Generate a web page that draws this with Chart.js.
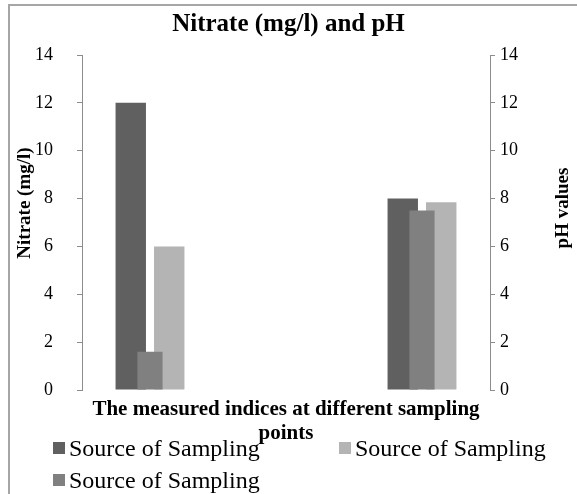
<!DOCTYPE html>
<html>
<head>
<meta charset="utf-8">
<script src="https://cdn.jsdelivr.net/npm/chart.js@4/dist/chart.umd.min.js"></script>
<style>
    html, body { margin: 0; padding: 0; background: #fff; overflow: hidden; }
    #wrap { position: relative; width: 577px; height: 494px; overflow: hidden; }
    #frame { position: absolute; left: 8px; top: 4px; width: 620px; height: 560px; border-top: 2px solid #a6a6a6; border-left: 2px solid #a6a6a6; box-sizing: border-box; }
    #myChart { position: absolute; left: 0; top: 0; }
    #legend { position: absolute; left: 53px; top: 432px; width: 600px; display: flex; flex-wrap: wrap; font-family: 'Liberation Serif', 'Times New Roman', serif; font-size: 24px; color: #000; }
    #legend .item { width: 286px; height: 32px; display: flex; align-items: center; white-space: nowrap; }
    #legend .box { width: 12px; height: 12px; margin-right: 4px; flex: none; }
</style>
</head>
<body>
<div id="wrap">
    <div id="frame"></div>
    <canvas id="myChart" width="577" height="494"></canvas>
    <div id="legend"></div>
</div>
<script>
    // data
    const categories = ['', '', ''];
    const seriesNames = ['Source of Sampling', 'Source of Sampling', 'Source of Sampling'];
    const darkValues = [12, null, 8];      // left axis
    const lightValues = [6, null, 7.85];   // left axis
    const mediumValues = [1.6, null, 7.5]; // right axis (pH)
    const tickValues = [0, 2, 4, 6, 8, 10, 12, 14];

    const serif = "'Liberation Serif', 'Times New Roman', serif";

    // rotated axis titles (both read bottom to top)
    const axisTitles = {
        id: 'axisTitles',
        afterDraw(chart) {
            const { ctx, chartArea } = chart;
            ctx.save();
            ctx.font = 'bold 19px ' + serif;
            ctx.fillStyle = '#000';
            ctx.textAlign = 'center';
            ctx.textBaseline = 'middle';
            ctx.translate(chartArea.left - 57, chartArea.top + 148);
            ctx.rotate(-Math.PI / 2);
            ctx.fillText('Nitrate (mg/l)', 0, 0);
            ctx.restore();
            ctx.save();
            ctx.font = 'bold 19px ' + serif;
            ctx.fillStyle = '#000';
            ctx.textAlign = 'center';
            ctx.textBaseline = 'middle';
            ctx.translate(chartArea.right + 73, chartArea.top + 153);
            ctx.rotate(-Math.PI / 2);
            ctx.fillText('pH values', 0, 0);
            ctx.restore();
        }
    };

    function yAxis(position, width, pad) {
        return {
            position: position,
            min: 0,
            max: 14,
            afterBuildTicks: (scale) => { scale.ticks = tickValues.map(v => ({ value: v })); },
            afterFit: (scale) => { scale.width = width; },
            ticks: { color: '#000', padding: pad, font: { family: serif, size: 18 } },
            grid: { drawOnChartArea: false, drawTicks: true, tickLength: 5, color: '#8c8c8c' },
            border: { display: true, color: '#8c8c8c' },
            title: { display: false }
        };
    }

    const ctx = document.getElementById('myChart').getContext('2d');
    const myChart = new Chart(ctx, {
        type: 'bar',
        data: {
            labels: categories,
            datasets: [{
                label: seriesNames[0],
                data: darkValues,
                backgroundColor: '#606060',
                yAxisID: 'y',
                categoryPercentage: 0.566,
                barPercentage: 0.79,
                order: 1
            },
            {
                label: seriesNames[1],
                data: lightValues,
                backgroundColor: '#b4b4b4',
                yAxisID: 'y',
                categoryPercentage: 0.566,
                barPercentage: 0.79,
                order: 1
            },
            {
                label: seriesNames[2],
                data: mediumValues,
                backgroundColor: '#808080',
                yAxisID: 'y2',
                grouped: false, // overlaid in the middle of the category
                categoryPercentage: 1,
                barPercentage: 0.185,
                order: 0
            }]
        },
        options: {
            responsive: false,
            animation: false,
            layout: { padding: 0 },
            scales: {
                x: {
                    type: 'category',
                    offset: true,
                    afterFit: (scale) => { scale.height = 104; },
                    ticks: { display: false },
                    grid: { display: false },
                    border: { display: false },
                    title: {
                        display: true,
                        text: ['The measured indices at different sampling', 'points'],
                        color: '#000',
                        font: { family: serif, size: 21, weight: 'bold', lineHeight: 1.15 },
                        padding: { top: 0, bottom: 48 }
                    }
                },
                y: yAxis('left', 82, 24),
                y2: yAxis('right', 87, 5)
            },
            plugins: {
                legend: { display: false },
                tooltip: { enabled: false },
                title: {
                    display: true,
                    text: 'Nitrate (mg/l) and pH',
                    color: '#000',
                    font: { family: serif, size: 25, weight: 'bold', lineHeight: 1.2 },
                    padding: { top: 10, bottom: 15 }
                }
            }
        },
        plugins: [axisTitles]
    });

    // legend in the dataset order, two per row
    const legend = document.getElementById('legend');
    myChart.data.datasets.forEach(ds => {
        const item = document.createElement('div');
        item.className = 'item';
        const box = document.createElement('span');
        box.className = 'box';
        box.style.background = ds.backgroundColor;
        item.appendChild(box);
        item.appendChild(document.createTextNode(ds.label));
        legend.appendChild(item);
    });
</script>
</body>
</html>
